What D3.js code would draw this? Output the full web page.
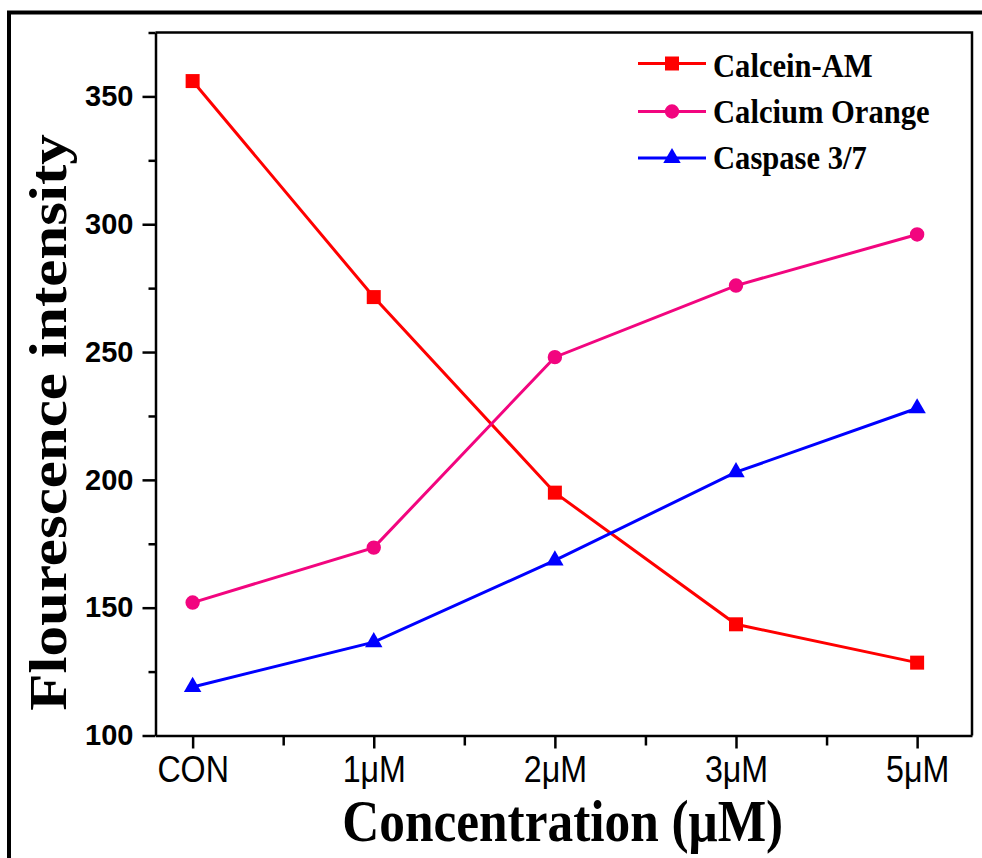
<!DOCTYPE html>
<html>
<head>
<meta charset="utf-8">
<script src="https://d3js.org/d3.v7.min.js"></script>
<style>
  html, body { margin: 0; padding: 0; background: #fff; }
  svg { display: block; }
</style>
</head>
<body>
<svg id="chart" width="982" height="858"></svg>
<script>
// ---- data ----
const categories = ["CON", "1\u03bcM", "2\u03bcM", "3\u03bcM", "5\u03bcM"];
const calceinAM = [356, 271.5, 195, 143.5, 128.5];
const calciumOrange = [152, 173.5, 248, 276, 296];
const caspase37 = [119, 136.5, 168.5, 203, 228];
const seriesNames = ["Calcein-AM", "Calcium Orange", "Caspase 3/7"];
const yMajorTicks = [100, 150, 200, 250, 300, 350];
const yMinorTicks = [125, 175, 225, 275, 325, 375];
const xMinorTicks = [0.5, 1.5, 2.5, 3.5];

const series = [
  { name: seriesNames[0], values: calceinAM, color: "#ff0000", symbol: d3.symbolSquare, size: 196 },
  { name: seriesNames[1], values: calciumOrange, color: "#f2057f", symbol: d3.symbolCircle, size: 163 },
  { name: seriesNames[2], values: caspase37, color: "#0000ff", symbol: d3.symbolTriangle, size: 132 }
];

const svg = d3.select("#chart");
const L = 155.5, R = 972, T = 32.5, B = 735.5;

const x = d3.scaleLinear().domain([-0.205, 4.303]).range([L, R]);
const y = d3.scaleLinear().domain([100, 375]).range([B, T]);

// outer frame
svg.append("rect").attr("x", 9).attr("y", 12.5).attr("width", 1000).attr("height", 900)
  .attr("fill", "none").attr("stroke", "#000").attr("stroke-width", 4);

// plot frame (top/right)
svg.append("path")
  .attr("d", `M${L},${T}H${R}V${B}`)
  .attr("fill", "none").attr("stroke", "#000").attr("stroke-width", 2.5);

// axes
const xAxis = d3.axisBottom(x).tickValues([0, 1, 2, 3, 4])
  .tickFormat(i => categories[i]).tickSize(13).tickSizeOuter(0).tickPadding(7.5);
const xMinor = d3.axisBottom(x).tickValues(xMinorTicks).tickFormat("").tickSize(10).tickSizeOuter(0);
const yAxis = d3.axisLeft(y).tickValues(yMajorTicks).tickFormat(d3.format("d"))
  .tickSize(13).tickSizeOuter(0).tickPadding(9);
const yMinor = d3.axisLeft(y).tickValues(yMinorTicks).tickFormat("").tickSize(7).tickSizeOuter(0);

function styleAxis(g) {
  g.selectAll("path.domain").attr("stroke", "#000").attr("stroke-width", 2.5);
  g.selectAll(".tick line").attr("stroke", "#000").attr("stroke-width", 2.5);
}

const gxm = svg.append("g").attr("transform", `translate(0,${B})`).call(xMinor);
styleAxis(gxm); gxm.select("path.domain").remove();
const gx = svg.append("g").attr("transform", `translate(0,${B})`).call(xAxis);
styleAxis(gx);
gx.selectAll(".tick text")
  .attr("font-family", "'Liberation Sans', Arial, sans-serif")
  .attr("font-size", 37).attr("fill", "#000")
  .attr("transform", "scale(0.87,1)");

const gym = svg.append("g").attr("transform", `translate(${L},0)`).call(yMinor);
styleAxis(gym); gym.select("path.domain").remove();
const gy = svg.append("g").attr("transform", `translate(${L},0)`).call(yAxis);
styleAxis(gy);
gy.selectAll(".tick text")
  .attr("font-family", "'Liberation Sans', Arial, sans-serif")
  .attr("font-weight", "bold").attr("font-size", 29).attr("fill", "#000");

// lines + markers
const line = d3.line().x((d, i) => x(i)).y(d => y(d));
series.forEach(s => {
  svg.append("path").datum(s.values).attr("d", line)
    .attr("fill", "none").attr("stroke", s.color).attr("stroke-width", 3);
  svg.append("g").selectAll("path").data(s.values).join("path")
    .attr("d", d3.symbol().type(s.symbol).size(s.size))
    .attr("transform", (d, i) => `translate(${x(i)},${y(d)})`)
    .attr("fill", s.color);
});

// legend
const legY = [63.5, 111.5, 158];
const legBase = [77, 123, 169];
series.forEach((s, k) => {
  const g = svg.append("g").attr("transform", `translate(0,${legY[k]})`);
  g.append("line").attr("x1", 638).attr("x2", 706).attr("y1", 0).attr("y2", 0)
    .attr("stroke", s.color).attr("stroke-width", 3);
  g.append("path").attr("d", d3.symbol().type(s.symbol).size(s.size))
    .attr("transform", "translate(672,0)").attr("fill", s.color);
  g.append("text").text(s.name)
    .attr("transform", `translate(713,${legBase[k] - legY[k]}) scale(0.9,1)`)
    .attr("font-family", "'Liberation Serif', 'Times New Roman', serif")
    .attr("font-weight", "bold").attr("font-size", 34).attr("fill", "#000");
});

// axis titles
svg.append("text").text("Concentration (\u03bcM)")
  .attr("transform", `translate(${(L + R) / 2 - 1},841) scale(0.87,1)`)
  .attr("text-anchor", "middle")
  .attr("font-family", "'Liberation Serif', 'Times New Roman', serif")
  .attr("font-weight", "bold").attr("font-size", 59).attr("fill", "#000");

svg.append("text").text("Flourescence intensity")
  .attr("transform", "translate(66,422.5) rotate(-90) scale(1,0.87)")
  .attr("text-anchor", "middle")
  .attr("font-family", "'Liberation Serif', 'Times New Roman', serif")
  .attr("font-weight", "bold").attr("font-size", 61).attr("fill", "#000");
</script>
</body>
</html>
